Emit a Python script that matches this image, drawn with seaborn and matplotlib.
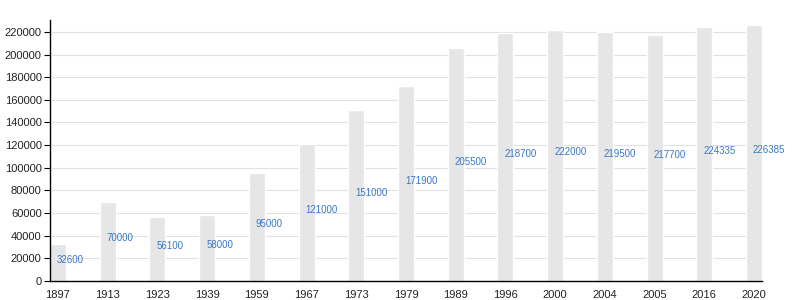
import matplotlib
matplotlib.use("Agg")
import matplotlib.pyplot as plt
import seaborn as sns
import pandas as pd

years = ["1897", "1913", "1923", "1939", "1959", "1967", "1973", "1979", "1989",
         "1996", "2000", "2004", "2005", "2016", "2020"]
population = [32600, 70000, 56100, 58000, 95000, 121000, 151000, 171900, 205500,
              218700, 222000, 219500, 217700, 224335, 226385]
yticks = list(range(0, 220001, 20000))

sns.set_theme(style="white")
plt.rcParams['font.family'] = ['Liberation Sans', 'DejaVu Sans']

df = pd.DataFrame({"year": years, "pop": population})
fig = plt.figure(figsize=(8, 3), dpi=100)
ax = fig.add_axes([0.0625, 0.0633, 0.89, 0.87])

ax.set_axisbelow(True)
ax.yaxis.grid(True, color="#e2e2e2", linewidth=0.8)
sns.barplot(data=df, x="year", y="pop", color="#e6e6e6", saturation=1, width=0.32,
            ax=ax, zorder=2)

for i, v in enumerate(population):
    ax.text(i - 0.02, v / 2, str(v), color="#3a78c8", fontsize=7, ha="left",
            va="baseline", zorder=3)

ax.set_xlim(-0.16, len(years) - 1 + 0.16)
ax.set_ylim(0, 230500)
ax.set_yticks(yticks)
ax.set_yticklabels([str(t) for t in yticks])
ax.set_xlabel("")
ax.set_ylabel("")
ax.tick_params(axis="y", which="both", left=True, length=4, width=0.8, color="black",
               labelsize=8, pad=2, labelcolor="#222222")
ax.tick_params(axis="x", bottom=False, labelsize=8, pad=0.5, labelcolor="#222222")
for s in ["top", "right"]:
    ax.spines[s].set_visible(False)
for s in ["left", "bottom"]:
    ax.spines[s].set_color("black")
    ax.spines[s].set_linewidth(1.0)

fig.savefig("out.png", dpi=100)
